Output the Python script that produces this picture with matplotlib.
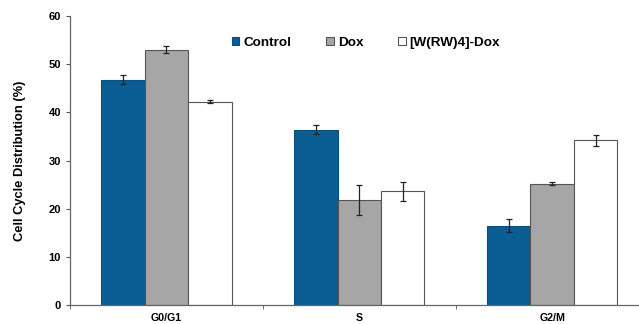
import numpy as np
import matplotlib.pyplot as plt

plt.rcParams['font.family'] = ['Liberation Sans', 'DejaVu Sans']

phases = ['G0/G1', 'S', 'G2/M']
control = [46.8, 36.4, 16.5]
control_err = [1.0, 1.0, 1.4]
dox = [53.0, 21.8, 25.2]
dox_err = [0.7, 3.1, 0.3]
wrw = [42.2, 23.6, 34.2]
wrw_err = [0.3, 2.0, 1.1]

x = np.arange(len(phases))
w = 0.225

fig = plt.figure(figsize=(6.39, 3.24), dpi=100)
ax = fig.add_axes([0.1095, 0.0586, 0.8905, 0.892])

ekw = dict(ecolor='#222222', elinewidth=0.9, capsize=2.2, capthick=0.9)
ax.bar(x - w, control, w, yerr=control_err, color='#0b5e93', edgecolor='#0a4f7d',
       linewidth=0.8, label='Control', error_kw=ekw)
ax.bar(x, dox, w, yerr=dox_err, color='#a6a6a6', edgecolor='#555555',
       linewidth=0.8, label='Dox', error_kw=ekw)
ax.bar(x + w, wrw, w, yerr=wrw_err, color='white', edgecolor='#555555',
       linewidth=0.8, label='[W(RW)4]-Dox', error_kw=ekw)

ax.set_xlim(-0.5, 2.45)
ax.set_ylim(0, 60)
ax.set_yticks(range(0, 61, 10))
ax.set_xticks(x)
ax.set_xticklabels(phases, fontsize=7.7, fontweight='bold')
ax.set_xticks([-0.5, 0.5, 1.5], minor=True)
ax.tick_params(axis='x', which='major', length=0, pad=6)
ax.tick_params(axis='x', which='minor', length=3, color='#555555')
ax.tick_params(axis='y', length=3, color='#555555', labelsize=8)
for t in ax.get_yticklabels():
    t.set_fontweight('bold')

for s in ['top', 'right']:
    ax.spines[s].set_visible(False)
for s in ['left', 'bottom']:
    ax.spines[s].set_color('#666666')
    ax.spines[s].set_linewidth(0.9)

ax.set_ylabel('Cell Cycle Distribution (%)', fontsize=9.3, fontweight='bold', labelpad=16)

ax.legend(loc='upper left', bbox_to_anchor=(0.263, 0.97), ncol=3, frameon=False,
          prop={'size': 9.7, 'weight': 'bold'}, handlelength=0.55, handleheight=0.55,
          handletextpad=0.3, columnspacing=2.6)

fig.savefig('out.png', dpi=100)
